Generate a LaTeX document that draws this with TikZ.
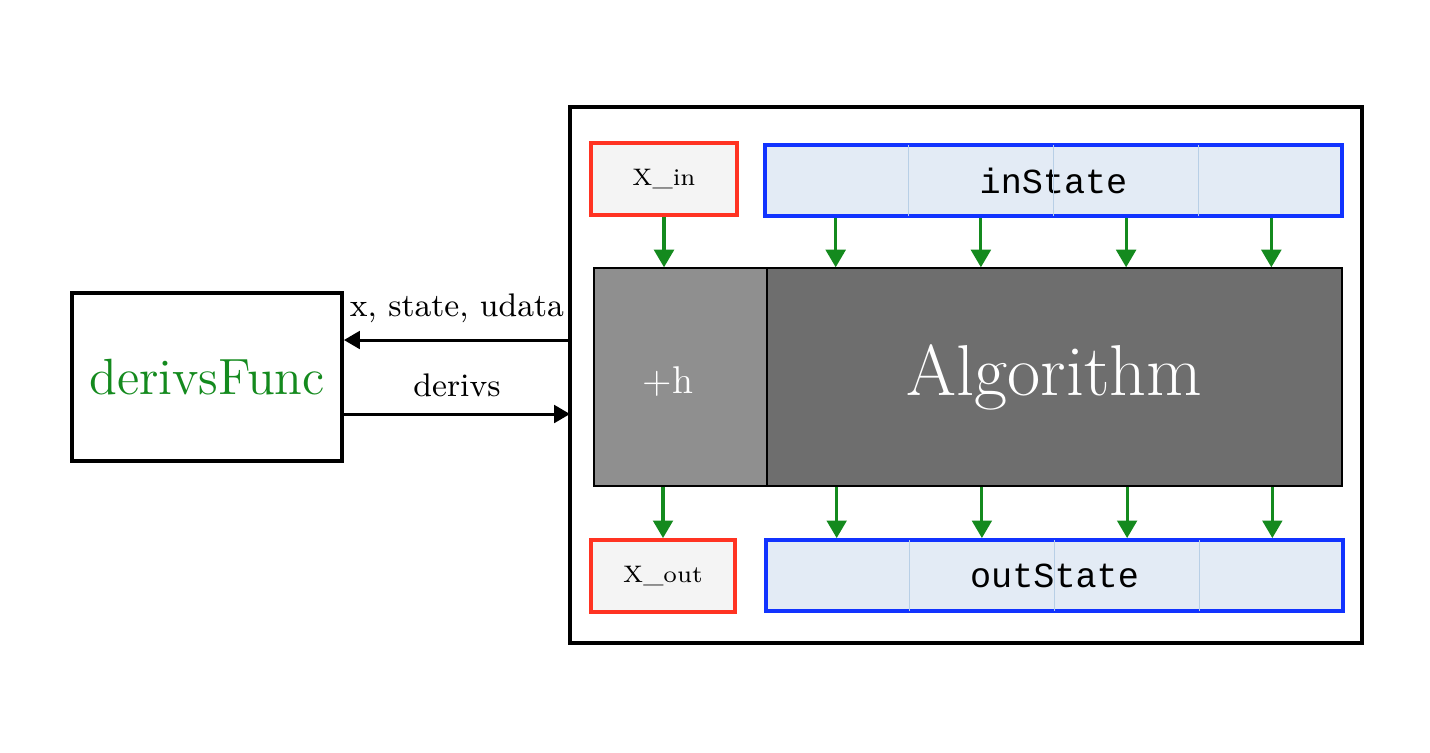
\documentclass[tikz,border=0pt]{standalone}
\usepackage{fontspec}
\setmonofont{Liberation Mono}
\usetikzlibrary{arrows.meta,calc}
\definecolor{boxred}{HTML}{FF3322}
\definecolor{boxblue}{HTML}{1133FF}
\definecolor{flowgreen}{HTML}{148A1E}
\definecolor{statefill}{HTML}{E3EBF5}
\definecolor{statesep}{HTML}{B8CFE6}
\definecolor{xfill}{HTML}{F4F4F4}
\tikzset{
	xbox/.style={draw=boxred, line width=1.1pt, fill=xfill, minimum height=0.72cm, inner sep=0pt, font=\fontsize{6.8}{8}\selectfont},
	statebox/.style={draw=boxblue, line width=1.1pt, fill=statefill, minimum width=5.77cm, minimum height=0.71cm, inner sep=0pt, font=\fontsize{10}{12}\selectfont\ttfamily},
	flow/.style={flowgreen, line width=0.9pt, -{Triangle[width=5.6pt,length=5pt]}},
	call/.style={line width=0.85pt, -{Triangle[width=5pt,length=4.5pt]}},
	lbl/.style={font=\fontsize{9.3}{11}\selectfont, inner sep=0pt}
}
\begin{document}
\begin{tikzpicture}
	\useasboundingbox (0,0) rectangle (14.30,7.52);
	% stepper and its parts
	\node[draw, line width=1.1pt, minimum width=7.92cm, minimum height=5.36cm] (solver) at (9.66,3.77) {};
	\node[xbox, minimum width=1.46cm] (xin) at (6.64,5.73) {X\_in};
	\node[statebox] (instate) at (10.535,5.715) {inState};
	\node[draw, thin, fill=black!44, minimum width=1.73cm, minimum height=2.18cm, inner sep=0pt] (hstep) at (6.805,3.75) {};
	\node[text=white, font=\fontsize{11}{13}\selectfont] (hlabel) at (6.68,3.70) {+h};
	\node[draw, thin, fill=black!57, minimum width=5.75cm, minimum height=2.18cm, inner sep=0pt, text=white, font=\fontsize{20.5}{24}\selectfont] (alg) at (10.545,3.75) {Algorithm};
	\node[xbox, minimum width=1.44cm] (xout) at (6.63,1.76) {X\_out};
	\node[statebox] (outstate) at (10.545,1.765) {outState};
	% separators in the state boxes
	\foreach \f in {0.25,0.5,0.75} {
		\draw[statesep, line width=0.4pt] ($(instate.south west)!\f!(instate.south east)+(0,0.02)$) -- ($(instate.north west)!\f!(instate.north east)-(0,0.02)$);
		\draw[statesep, line width=0.4pt] ($(outstate.south west)!\f!(outstate.south east)+(0,0.02)$) -- ($(outstate.north west)!\f!(outstate.north east)-(0,0.02)$);
	}
	\draw[black, thin] (hstep.north east) -- (hstep.south east);
	% data flow
	\draw[flow] (xin.south) -- (xin.south |- hstep.north);
	\draw[flow] (xout.north |- hstep.south) -- (xout.north);
	\foreach \f in {0.125,0.375,0.625,0.875} {
		\coordinate (top) at ($(instate.south west)!\f!(instate.south east)$);
		\coordinate (bot) at ($(outstate.north west)!\f!(outstate.north east)$);
		\draw[flow] (top) -- (top |- alg.north);
		\draw[flow] (bot |- alg.south) -- (bot);
	}
	% user function
	\node[draw, line width=1.1pt, minimum width=2.70cm, minimum height=1.68cm, text=flowgreen, font=\fontsize{14.5}{17}\selectfont] (derivs) at (2.07,3.75) {derivsFunc};
	\coordinate (callout) at (5.70,4.12);
	\coordinate (callin) at (5.70,3.38);
	\draw[call] (callout) -- (derivs.east |- callout) node[lbl, midway, above=0.16cm] {x, state, udata};
	\draw[call] (derivs.east |- callin) -- (callin) node[lbl, midway, above=0.16cm] {derivs};
\end{tikzpicture}
\end{document}
